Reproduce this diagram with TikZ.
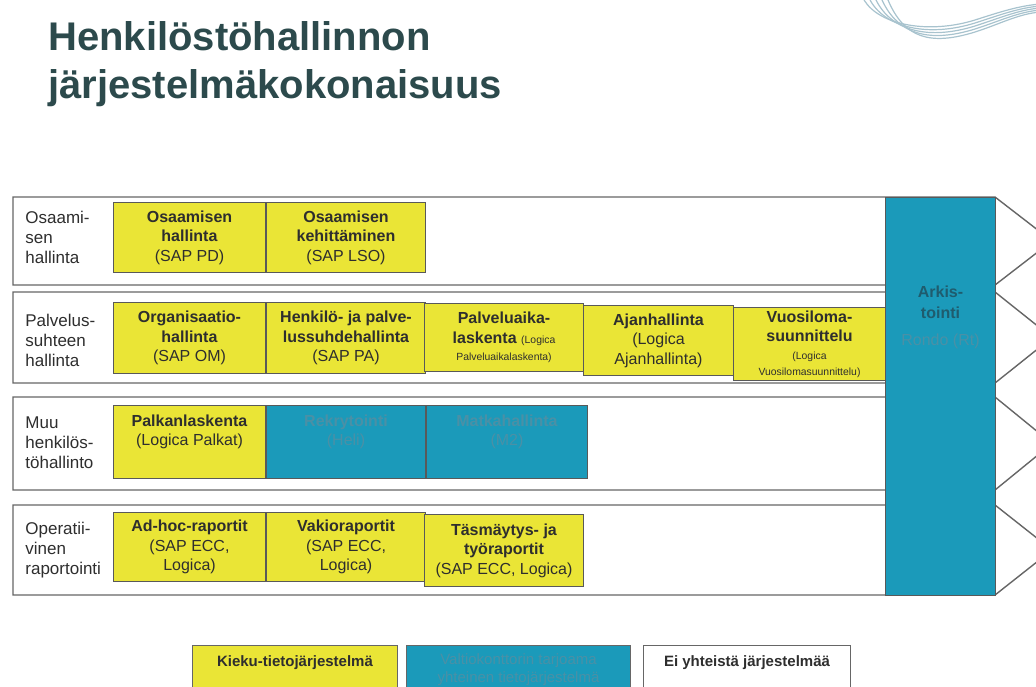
\documentclass[tikz,border=0pt]{standalone}
\usepackage{fontspec}
\setmainfont{Liberation Sans}
\usetikzlibrary{positioning}
\definecolor{kieku}{HTML}{EAE536}
\definecolor{vk}{HTML}{1B9ABA}
\definecolor{vktext}{HTML}{4A90A6}
\definecolor{vkdark}{HTML}{1F5C6E}
\definecolor{ink}{HTML}{2E2E2E}
\definecolor{titleink}{HTML}{2C4A4C}
\definecolor{wave}{HTML}{A8C3CE}
\tikzset{
	title/.style={anchor=base west,inner sep=0pt,text=titleink,font=\fontsize{20}{24}\selectfont\bfseries},
	rowline/.style={draw=black!60,line width=0.7pt,fill=white},
	rowlab/.style={anchor=west,align=left,inner sep=0pt,text=ink,font=\fontsize{8.5}{10}\selectfont},
	ybox/.style={draw=black!65,line width=0.5pt,fill=kieku,anchor=north west,align=center,inner sep=1pt,text=ink,font=\fontsize{8}{9.8}\selectfont},
	vbox/.style={ybox,fill=vk,text=vktext},
	legbox/.style={draw=black!60,line width=0.5pt,anchor=north west,minimum height=45pt},
	legtext/.style={align=center,inner sep=0pt,font=\fontsize{7.5}{9}\selectfont},
}
\begin{document}
\begin{tikzpicture}[x=0.5pt,y=-0.5pt]
	\useasboundingbox (0,0) rectangle (1036,686);
	\clip (0,0) rectangle (1036,686);
	% otsikko
	\node[title] (otsikko1) at (48,50) {Henkilöstöhallinnon};
	\node[title] (otsikko2) at (48,98) {järjestelmäkokonaisuus};
	% aalto oikeassa yläkulmassa
	\foreach \i in {0,...,4}{\draw[wave,line width=0.6pt] (864+6*\i,0) .. controls (880+6*\i,{26+3*\i}) and (930,{34+3*\i}) .. (975,{20+3*\i}) .. controls (1000,{12+3*\i}) and (1018,{6+2*\i}) .. (1040,{4+2*\i});}
	% rivit
	\foreach \t/\b in {197/285,292/383,397/490,505/595}{\draw[rowline] (13,\t) -- (995,\t) -- (1052,{(\t+\b)/2}) -- (995,\b) -- (13,\b) -- cycle;}
	% osaamisen hallinta
	\node[rowlab] (lab1) at (25,237) {Osaami-\\sen\\hallinta};
	\node[ybox,minimum width=76pt,minimum height=35pt] (osHal) at (113,202) {\textbf{Osaamisen}\\\textbf{hallinta}\\(SAP PD)};
	\node[ybox,minimum width=79.5pt,minimum height=35pt,right=0pt of osHal] (osKeh) {\textbf{Osaamisen}\\\textbf{kehittäminen}\\(SAP LSO)};
	% palvelussuhteen hallinta
	\node[rowlab] (lab2) at (25,340) {Palvelus-\\suhteen\\hallinta};
	\node[ybox,minimum width=76pt,minimum height=35.5pt] (orgHal) at (113,302) {\textbf{Organisaatio-}\\\textbf{hallinta}\\(SAP OM)};
	\node[ybox,minimum width=79.5pt,minimum height=35.5pt,right=0pt of orgHal] (hlHal) {\textbf{Henkilö- ja palve-}\\\textbf{lussuhdehallinta}\\(SAP PA)};
	\node[ybox,minimum width=79.5pt,minimum height=34pt,anchor=north west] (paLask) at (424,303) {\textbf{Palveluaika-}\\\textbf{laskenta} {\fontsize{5.2}{6}\selectfont(Logica}\\[-1pt]{\fontsize{5.2}{6}\selectfont Palveluaikalaskenta)}};
	\node[ybox,minimum width=75pt,minimum height=35pt,anchor=north west] (ajHal) at (583,305) {\textbf{Ajanhallinta}\\(Logica\\Ajanhallinta)};
	\node[ybox,minimum width=76pt,minimum height=36.5pt,anchor=north west] (vlSuun) at (733,307) {\textbf{Vuosiloma-}\\\textbf{suunnittelu}\\[-1pt]{\fontsize{5.2}{6}\selectfont(Logica}\\[-2pt]{\fontsize{5.2}{6}\selectfont Vuosilomasuunnittelu)}};
	% muu henkilöstöhallinto
	\node[rowlab] (lab3) at (25,443) {Muu\\henkilös-\\töhallinto};
	\node[ybox,minimum width=76pt,minimum height=36.5pt] (palk) at (113,405) {};
	\node[vbox,minimum width=79.5pt,minimum height=36.5pt,right=0pt of palk] (rekr) {};
	\node[vbox,minimum width=80.5pt,minimum height=36.5pt,right=0pt of rekr] (matka) {};
	\node[legtext,text=ink,font=\fontsize{8}{9.8}\selectfont,below=4.5pt of palk.north] (palkT) {\textbf{Palkanlaskenta}\\(Logica Palkat)};
	\node[legtext,text=vktext,font=\fontsize{8}{9.8}\selectfont,below=4.5pt of rekr.north] (rekrT) {\textbf{Rekrytointi}\\(Heli)};
	\node[legtext,text=vktext,font=\fontsize{8}{9.8}\selectfont,below=4.5pt of matka.north] (matkaT) {\textbf{Matkahallinta}\\(M2)};
	% operatiivinen raportointi
	\node[rowlab] (lab4) at (25,550) {Operatii-\\vinen\\raportointi};
	\node[ybox,minimum width=76pt,minimum height=34.5pt] (adHoc) at (113,512) {\textbf{Ad-hoc-raportit}\\(SAP ECC,\\Logica)};
	\node[ybox,minimum width=79.5pt,minimum height=34.5pt,right=0pt of adHoc] (vakio) {\textbf{Vakioraportit}\\(SAP ECC,\\Logica)};
	\node[ybox,minimum width=79.5pt,minimum height=36pt,anchor=north west] (tasm) at (424,514) {\textbf{Täsmäytys- ja}\\\textbf{työraportit}\\(SAP ECC, Logica)};
	% arkistointi
	\node[vbox,minimum width=55pt,minimum height=199pt] (arkisto) at (885,197) {};
	\node[legtext,text=vkdark,font=\fontsize{8}{10.5}\selectfont,below=44pt of arkisto.north] (arkT) {\textbf{Arkis-}\\\textbf{tointi}\\[3pt]{\color{vktext}\mdseries Rondo (Rt)}};
	% selitteet
	\node[legbox,fill=kieku,minimum width=102.5pt] (legK) at (192,645) {};
	\node[legbox,fill=vk,minimum width=112pt] (legV) at (406,645) {};
	\node[legbox,fill=white,minimum width=103.5pt] (legE) at (643,645) {};
	\node[legtext,text=ink,below=5pt of legK.north] (legKT) {\textbf{Kieku-tietojärjestelmä}};
	\node[legtext,text=vktext,below=4pt of legV.north] (legVT) {Valtiokonttorin tarjoama\\yhteinen tietojärjestelmä};
	\node[legtext,text=ink,below=5pt of legE.north] (legET) {\textbf{Ei yhteistä järjestelmää}};
\end{tikzpicture}
\end{document}
